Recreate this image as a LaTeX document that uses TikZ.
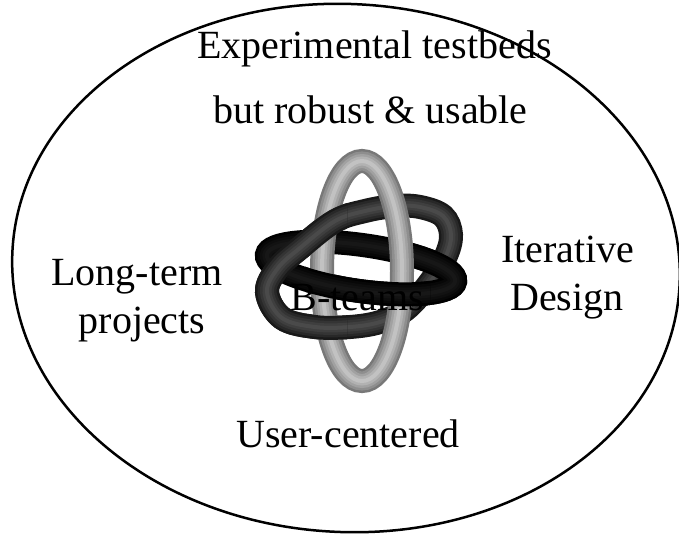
\documentclass[tikz,border=0pt]{standalone}
\usepackage{fontspec}
\setmainfont{Liberation Serif}
\definecolor{Ledge}{gray}{0.47}
\definecolor{Lcen}{gray}{0.76}
\definecolor{Dedge}{gray}{0.10}
\definecolor{Dcen}{gray}{0.29}
\definecolor{Bedge}{gray}{0.0}
\definecolor{Bcen}{gray}{0.09}
\newcommand{\tubedraw}[3]{%
  \foreach \ww/\pc in {24/0,19/30,14/55,9/78,4/100}{%
    \draw[line width=\ww pt, color=#3!\pc!#2] #1;}}
\newcommand{\ringL}{\tubedraw{(362,271) ellipse [x radius=40pt, y radius=110pt]}{Ledge}{Lcen}}
\newcommand{\ringD}{\tubedraw{plot[smooth cycle, tension=0.6] coordinates {(267,292) (282,318) (315,327) (350,327) (380,322) (405,310) (428,285) (445,258) (451,235) (443,216) (420,207) (395,206) (365,211) (335,221) (300,248) (278,268)}}{Dedge}{Dcen}}
\newcommand{\ringB}{\begin{scope}[shift={(361,268)}, rotate=-8]\tubedraw{(0,0) ellipse [x radius=95pt, y radius=23pt]}{Bedge}{Bcen}\end{scope}}
\tikzset{lbl/.style={font=\fontsize{40}{48}\selectfont, anchor=base, inner sep=0pt}}
\begin{document}
\begin{tikzpicture}[x=1pt,y=-1pt]
\useasboundingbox (0,0) rectangle (679,536);
% outer ellipse
\begin{scope}[shift={(346,268)}, rotate=-3]
\draw[line width=2.5pt] (0,0) ellipse [x radius=334pt, y radius=264pt];
\end{scope}
% rings
\ringB
\ringD
\begin{scope}\clip (395,0) rectangle (679,536); \ringB \end{scope}
\ringL
\begin{scope}\clip (0,0) rectangle (347,536); \ringD \end{scope}
\begin{scope}\clip (305,260.1) -- (430,277.7) -- (430,400) -- (305,400) -- cycle; \ringB \end{scope}
% texts
\node[lbl] (exp) at (374.5,58) {Experimental testbeds};
\node[lbl] (rob) at (370.5,123) {but robust \& usable};
\node[lbl] (long) at (137,285) {Long-term};
\node[lbl] (proj) at (142,333) {projects};
\node[lbl] (iter) at (568,262) {Iterative};
\node[lbl] (des) at (567,310) {Design};
\node[lbl] (bt) at (357.5,310) {B-teams};
\node[lbl] (user) at (348,447) {User-centered};
\end{tikzpicture}
\end{document}
